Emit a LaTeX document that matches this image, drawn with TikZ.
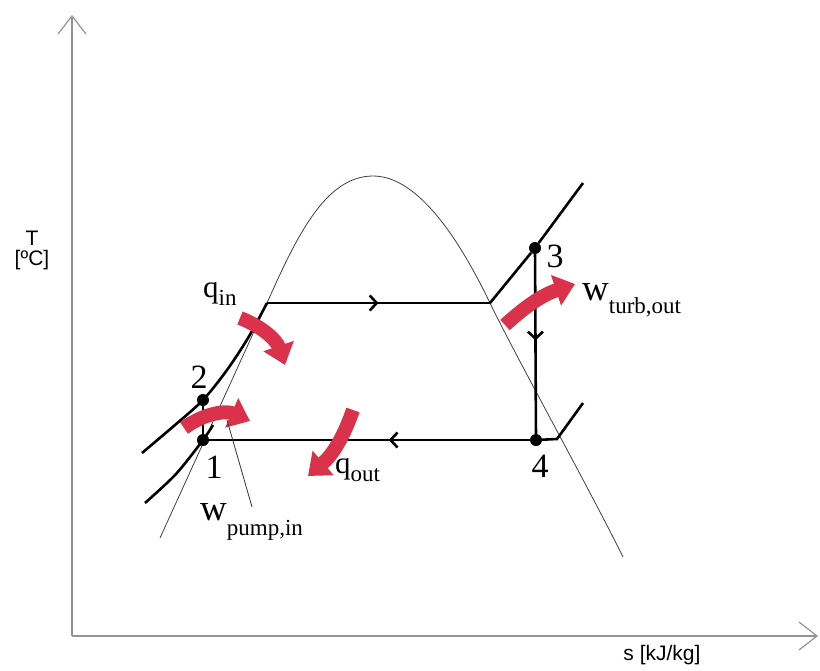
\documentclass[tikz,border=0pt]{standalone}
\usepackage{fontspec}
\setmainfont{Liberation Serif}
\setsansfont{Liberation Sans}
\usepackage{tikz}
\usetikzlibrary{arrows.meta,positioning,decorations.markings}
\definecolor{heatred}{RGB}{218,50,74}
\newcommand{\cyclbl}[4]{{\fontsize{#1}{#1}\selectfont #2}\lower#3\hbox{\fontsize{23}{23}\selectfont #4}}

\begin{document}
\begin{tikzpicture}[
  x=1pt, y=-1pt,
  axis/.style={draw=gray!85, line width=1.2pt, -{Straight Barb[length=18pt,width=28pt]}},
  dome/.style={draw=black!75, line width=0.8pt},
  cyc/.style={line width=2.6pt},
  pt/.style={circle, fill=black, inner sep=0pt, minimum size=12pt},
  num/.style={font=\fontsize{34}{34}\selectfont, anchor=base, inner sep=0pt},
  lbl/.style={anchor=base west, inner sep=0pt},
  axlbl/.style={font=\sffamily\fontsize{21}{23}\selectfont, inner sep=0pt},
  heat/.style={draw=heatred, line width=14pt, -{Triangle[width=31pt,length=20pt]}},
  midarr/.style={postaction={decorate}, decoration={markings, mark=at position #1 with {\arrow{Straight Barb[length=7pt,width=15pt]}}}}
]
\useasboundingbox (0,0) rectangle (820,670);

\coordinate (o) at (72,636);
\coordinate (ty) at (72,15);
\coordinate (sx) at (818,636);
\draw[axis] (o) -- (ty);
\draw[axis] (o) -- (sx);
\node[axlbl, anchor=base] (tlbl) at (32,245) {T};
\node[axlbl, below=5pt of tlbl] (tunit) {[ºC]};
\node[axlbl, anchor=base] (slbl) at (662,660) {s [kJ/kg]};

\draw[dome] (160,538) -- (267,303) .. controls (296,238) and (325,176) .. (373,176)
  .. controls (420,176) and (462,245) .. (490,303) .. controls (515,355) and (590,490) .. (623,557);

\coordinate (f) at (267,303);
\coordinate (g) at (490,303);
\coordinate (a3) at (583,183);
\coordinate (b4) at (557,439);
\coordinate (a4) at (583,403);
\node[pt] (p1) at (203,440) {};
\node[pt] (p2) at (203,400) {};
\node[pt] (p3) at (535,248) {};
\node[pt] (p4) at (536,440) {};

\draw[cyc] plot[smooth] coordinates {(142,453) (175,425) (203,400) (227,370) (248,338) (267,303)};
\draw[cyc] plot[smooth] coordinates {(145,503) (176,474) (203,440) (213,425)};
\draw[cyc, midarr=0.5] (f) -- (g);
\draw[cyc] (g) -- (p3) -- (a3);
\draw[cyc, midarr=0.48] (p3) -- (p4);
\draw[cyc] (p4) -- (b4) -- (a4);
\draw[cyc, midarr=0.44] (p4) -- (p1);
\draw[cyc] (p1) -- (p2);

\node[num] (n1) at (214,478) {1};
\node[num] (n2) at (199,388) {2};
\node[num] (n3) at (555,267) {3};
\node[num] (n4) at (540,477) {4};

\coordinate (qin1) at (240,318);
\coordinate (qin2) at (285,365);
\coordinate (wp1) at (184,428);
\coordinate (wp2) at (250,421);
\coordinate (qo1) at (353,410);
\coordinate (qo2) at (308,476);
\coordinate (wt1) at (505,325);
\coordinate (wt2) at (575,284);
\draw[heat] (qin1) to[bend left=25] (qin2);
\draw[heat] (wp1) to[bend left=30] (wp2);
\draw[heat] (qo1) to[bend left=15] (qo2);
\draw[heat] (wt1) to[bend left=12] (wt2);

\node[lbl] (qin) at (203,297) {\cyclbl{31}{q}{8pt}{in}};
\node[lbl] (qout) at (335,473) {\cyclbl{31}{q}{8pt}{out}};
\node[lbl] (wturb) at (582,300) {\cyclbl{37}{w}{13pt}{turb,out}};
\node[lbl] (wpump) at (200,520) {\cyclbl{37}{w}{15pt}{pump,in}};

\coordinate (ptail) at (252,507);
\coordinate (ptip) at (227,420);
\draw[line width=0.8pt, black!80] (ptail) -- (ptip);
\end{tikzpicture}
\end{document}
